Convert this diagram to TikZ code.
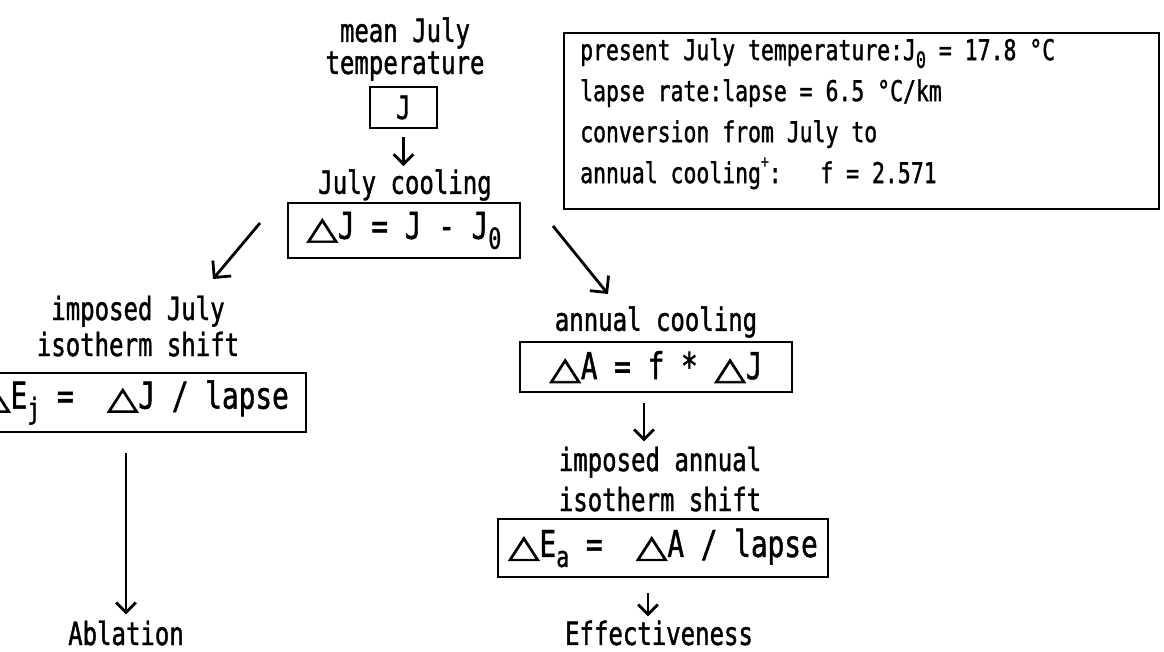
\documentclass[tikz,border=0pt]{standalone}
\usepackage{fontspec}
\usepackage{graphicx}
\setmainfont[FakeStretch=0.75,FakeBold=1.2]{DejaVu Sans Mono}
\newfontfamily\symfont[FakeBold=2]{DejaVu Sans}
\usetikzlibrary{arrows.meta}
\newcommand{\dlt}{\scalebox{1.1}[0.85]{\symfont △}}
\newcommand{\lowsub}[1]{\raisebox{-0.27em}{\scalebox{0.78}{#1}}}
\newcommand{\supplus}{\raisebox{0.55em}{\scalebox{0.6}{+}}}
\begin{document}
\begin{tikzpicture}[x=1pt,y=-1pt,
  lab/.style={font=\fontsize{32}{36}\selectfont, align=center, inner sep=0pt},
  fbox/.style={draw, line width=2.4pt, font=\fontsize{37}{37}\selectfont, inner sep=0pt},
  arr/.style={line width=2.8pt, -{Straight Barb[angle=90:14pt]}},
  darr/.style={line width=2.8pt, -{Straight Barb[angle=90:17pt]}}
]
\path[use as bounding box] (0,0) rectangle (1164,651);
\clip (0,0) rectangle (1164,651);

% top chain
\node[lab, font=\fontsize{32}{32}\selectfont] (mjt) at (405,49) {mean July\\temperature};
\node[fbox, line width=2pt, minimum width=67pt, minimum height=41pt, font=\fontsize{32}{32}\selectfont] (jbox) at (403.5,107.5) {J};
\node[lab] (jcool) at (405,185) {July cooling};
\node[fbox, minimum width=232pt, minimum height=55pt] (cbox) at (404,230.5) {\dlt J = J - J\lowsub{0}};
\draw[arr, shorten <=8pt, shorten >=3pt] (jbox.south) -- (jbox.south |- jcool.north);

% info box
\node[draw, line width=2.4pt, anchor=north west, minimum width=595pt, minimum height=176pt, inner sep=0pt] (info) at (563,32) {};
\node[anchor=north west, align=left, inner sep=0pt, font=\fontsize{28.6}{41}\selectfont] (infotext) at (580,38) {present July temperature:J\lowsub{0} = 17.8 °C\\lapse rate:lapse = 6.5 °C/km\\conversion from July to\\annual cooling\supplus:~~~f = 2.571};

% diagonal arrows
\coordinate (d1s) at (260,223);
\coordinate (d1e) at (213,279);
\coordinate (d2s) at (553,226);
\coordinate (d2e) at (608,294);
\draw[darr] (d1s) -- (d1e);
\draw[darr] (d2s) -- (d2e);

% left branch
\node[lab] (ijl) at (138,326) {imposed July\\isotherm shift};
\node[fbox, anchor=east, inner xsep=17pt, minimum height=59pt] (ejbox) at (307,402.5) {\dlt E\lowsub{j} =~~\dlt J / lapse};
\node[lab] (abl) at (126,633) {Ablation};
\draw[arr, shorten <=20pt, shorten >=6pt] (abl.north |- ejbox.south) -- (abl.north);

% right branch
\node[lab] (acl) at (656,322) {annual cooling};
\node[fbox, minimum width=272pt, minimum height=50pt] (abox) at (656,367) {\dlt A = f * \dlt J};
\node[lab, font=\fontsize{32}{40}\selectfont] (ial) at (660,479) {imposed annual\\isotherm shift};
\node[fbox, minimum width=330pt, minimum height=58pt] (ebox) at (663,548) {\dlt E\lowsub{a} =~~\dlt A / lapse};
\node[lab] (eff) at (659,633) {Effectiveness};
\draw[arr, shorten <=10pt, shorten >=5pt] ([xshift=-12pt]abox.south) -- ([xshift=-12pt]abox.south |- ial.north);
\draw[arr, shorten <=15pt, shorten >=4pt] ([xshift=-15pt]ebox.south) -- ([xshift=-15pt]ebox.south |- eff.north);
\end{tikzpicture}
\end{document}
